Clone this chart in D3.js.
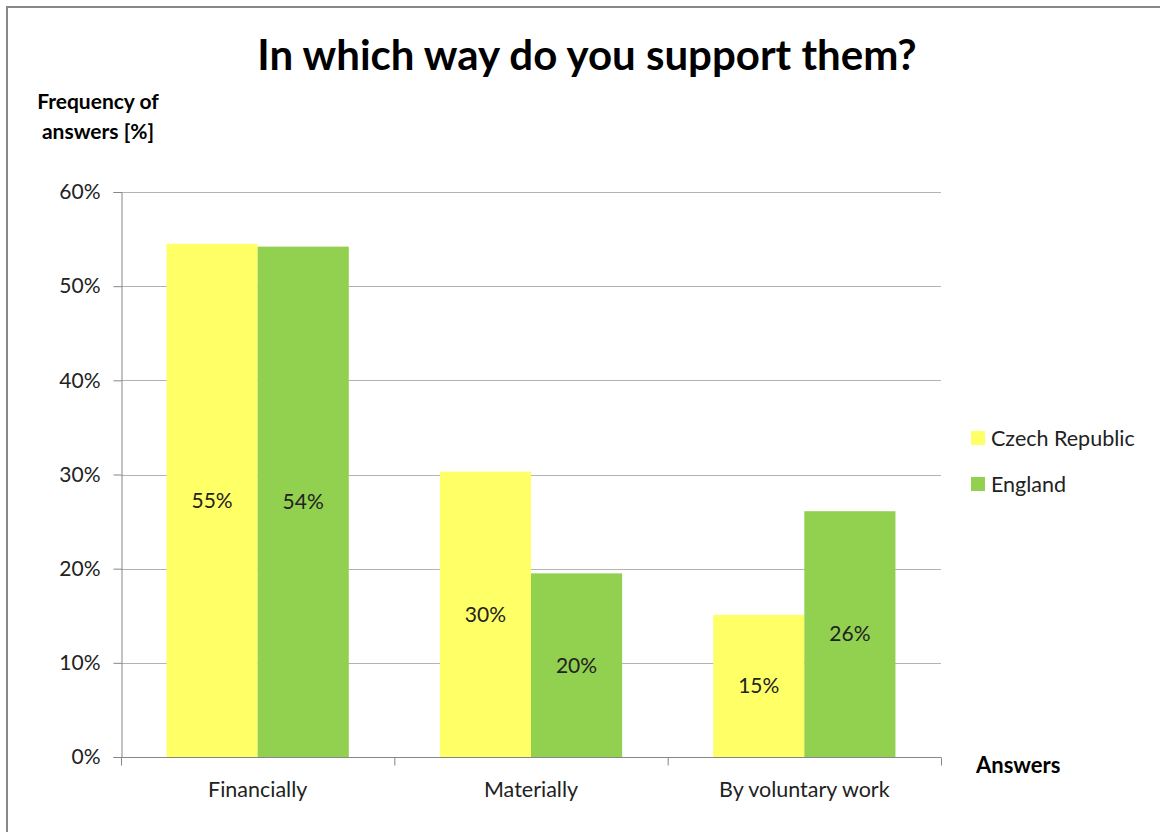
<!DOCTYPE html>
<html><head><meta charset="utf-8">
<script src="https://cdn.jsdelivr.net/npm/d3@7"></script>
<style>html,body{margin:0;padding:0;background:#fff;}svg{display:block;font-family:Lato,"Open Sans",sans-serif;}</style>
</head><body>
<script>
const categories = ["Financially", "Materially", "By voluntary work"];
const seriesNames = ["Czech Republic", "England"];
const czechValues = [54.5, 30.3, 15.1];
const englandValues = [54.2, 19.5, 26.1];
const valueLabels = [["55%", "30%", "15%"], ["54%", "20%", "26%"]];
const yTicks = [0, 10, 20, 30, 40, 50, 60];
const colors = ["#FFFF66", "#92D050"];

(function () {
const W = 1160, H = 832;
const svg = d3.select("body").append("svg").attr("width", W).attr("height", H);

// frame
svg.append("rect").attr("x", 7).attr("y", 7).attr("width", W + 20).attr("height", H + 20)
  .attr("fill", "#fff").attr("stroke", "#888").attr("stroke-width", 2);

const pLeft = 121, pRight = 941, pTop = 192, pBottom = 757;
const x0 = d3.scaleBand().domain(categories).range([pLeft, pRight]).paddingInner(0).paddingOuter(0);
const x1 = d3.scaleBand().domain(seriesNames).range([0, x0.bandwidth()]).paddingInner(0).paddingOuter(0.5);
const y = d3.scaleLinear().domain([0, 60]).range([pBottom, pTop]);

// gridlines
svg.append("g").selectAll("line").data(yTicks.filter(d => d > 0)).join("line")
  .attr("x1", pLeft).attr("x2", pRight).attr("y1", d => Math.round(y(d)) + 0.5).attr("y2", d => Math.round(y(d)) + 0.5)
  .attr("stroke", "#b3b3b3").attr("stroke-width", 1.2);

const data = categories.map((c, i) => ({cat: c, vals: [czechValues[i], englandValues[i]]}));
const g = svg.append("g").selectAll("g").data(data).join("g")
  .attr("transform", d => `translate(${x0(d.cat)},0)`);
g.selectAll("rect").data((d, i) => d.vals.map((v, j) => ({v, j, i}))).join("rect")
  .attr("x", d => x1(seriesNames[d.j])).attr("width", x1.bandwidth())
  .attr("y", d => y(d.v)).attr("height", d => y(0) - y(d.v))
  .attr("fill", d => colors[d.j]);
g.selectAll("text").data((d, i) => d.vals.map((v, j) => ({v, j, i}))).join("text")
  .attr("x", d => x1(seriesNames[d.j]) + x1.bandwidth() / 2)
  .attr("y", d => (y(d.v) + y(0)) / 2)
  .attr("dy", "0.35em").attr("text-anchor", "middle")
  .attr("font-size", 21).attr("fill", "#222")
  .text(d => valueLabels[d.j][d.i]);

// y axis
const yAxis = d3.axisLeft(y).tickValues(yTicks).tickFormat(d => d + "%").tickSize(8).tickPadding(13);
const ya = svg.append("g").attr("transform", `translate(${pLeft + 0.5},0)`).call(yAxis);
ya.select(".domain").attr("stroke", "#868686");
ya.selectAll(".tick line").attr("stroke", "#868686");
ya.selectAll(".tick text").attr("font-size", 21).attr("fill", "#222").attr("font-family", "Lato");

// x axis
const xAxis = d3.axisBottom(x0).tickSize(0).tickPadding(24);
const xa = svg.append("g").attr("transform", `translate(0,${pBottom + 0.5})`).call(xAxis);
xa.select(".domain").attr("stroke", "#868686").attr("d", `M${pLeft},0H${pRight}`);
xa.selectAll(".tick text").attr("font-size", 21.5).attr("fill", "#222").attr("font-family", "Lato");
const bounds = [pLeft, ...categories.map(c => x0(c) + x0.bandwidth())];
xa.append("g").selectAll("line").data(bounds).join("line")
  .attr("x1", d => d + 0.5).attr("x2", d => d + 0.5).attr("y1", 0).attr("y2", 8).attr("stroke", "#868686");

// title
svg.append("text").attr("x", 587).attr("y", 70).attr("text-anchor", "middle")
  .attr("font-size", 42).attr("font-weight", "bold").attr("fill", "#000")
  .text("In which way do you support them?");

// y axis title
const yt = svg.append("text").attr("text-anchor", "middle").attr("font-size", 21).attr("font-weight", "bold").attr("fill", "#000");
yt.append("tspan").attr("x", 98).attr("y", 109).text("Frequency of");
yt.append("tspan").attr("x", 98).attr("y", 139).text("answers [%]");

// x axis title
svg.append("text").attr("x", 976).attr("y", 773).attr("font-size", 22).attr("font-weight", "bold").attr("fill", "#000").text("Answers");

// legend
const lg = svg.append("g").selectAll("g").data(seriesNames).join("g")
  .attr("transform", (d, i) => `translate(971,${431 + i * 46})`);
lg.append("rect").attr("width", 14).attr("height", 14).attr("fill", (d, i) => colors[i]);
lg.append("text").attr("x", 20).attr("y", 7).attr("dy", "0.35em").attr("font-size", 21.5).attr("fill", "#222").text(d => d);
})();
</script>
</body></html>
